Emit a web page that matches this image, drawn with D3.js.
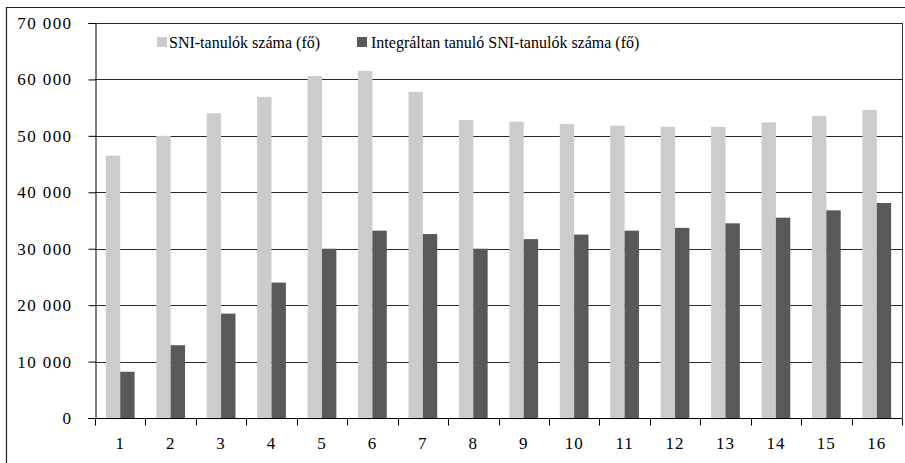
<!DOCTYPE html>
<html><head><meta charset="utf-8">
<script src="https://cdn.jsdelivr.net/npm/d3@7/dist/d3.min.js"></script>
<style>body{margin:0;background:#fff}svg{display:block}
svg text{font-family:"Liberation Serif","DejaVu Serif",serif;}</style>
</head><body>
<svg id="c" width="905" height="463"></svg>
<script>
const categories = ["1","2","3","4","5","6","7","8","9","10","11","12","13","14","15","16"];
const sniTotal = [46500,50000,54000,56900,60600,61500,57800,52800,52500,52100,51800,51600,51600,52400,53500,54600];
const sniIntegrated = [8200,12900,18500,24000,30000,33200,32600,30000,31700,32500,33200,33700,34500,35500,36800,38100];
const seriesNames = ["SNI-tanulók száma (fő)","Integráltan tanuló SNI-tanulók száma (fő)"];
const yTicks = [0,10000,20000,30000,40000,50000,60000,70000];
const colors = ["#cccccc","#595959"];

const svg = d3.select("#c");
const L = 95, R = 902, T = 23, B = 418;

// outer border
svg.append("path").attr("d","M6.5,463 L6.5,7.5 L905,7.5").attr("fill","none").attr("stroke","#222").attr("stroke-width",1.2);

const x = d3.scaleBand().domain(categories).range([L,R]).paddingInner(0).paddingOuter(0);
const y = d3.scaleLinear().domain([0,70000]).range([B,T]);
const groupW = x.bandwidth()*0.57;
const xs = d3.scaleBand().domain([0,1]).range([0,groupW]);

// gridlines
svg.append("g").selectAll("line").data(yTicks).join("line")
  .attr("x1",L).attr("x2",R).attr("y1",d=>Math.round(y(d))+0.5).attr("y2",d=>Math.round(y(d))+0.5)
  .attr("stroke","#2a2a2a").attr("stroke-width",1.1);

// bars
const series = [sniTotal, sniIntegrated];
series.forEach((vals,si)=>{
  svg.append("g").selectAll("rect").data(vals).join("rect")
    .attr("x",(d,i)=>x(categories[i]) + (x.bandwidth()-groupW)/2 + xs(si))
    .attr("width",xs.bandwidth())
    .attr("y",d=>y(d)).attr("height",d=>B-y(d))
    .attr("fill",colors[si]);
});

// plot right border
svg.append("line").attr("x1",R+0.5).attr("x2",R+0.5).attr("y1",T).attr("y2",B).attr("stroke","#333");

// y axis
const yAxis = d3.axisLeft(y).tickValues(yTicks).tickSize(7).tickPadding(16)
  .tickFormat(d=>d3.format(",")(d).replace(/,/g," "));
const gy = svg.append("g").attr("transform",`translate(${L+0.5},0)`).call(yAxis);
gy.attr("font-family",null).attr("font-size",null);
gy.selectAll("path,line").attr("stroke","#000");
gy.selectAll("text").style("font-size","17px").attr("fill","#000")
  .style("letter-spacing","1.4px").attr("dy","0.32em");

// x axis
const gx = svg.append("g").attr("transform",`translate(0,${B+0.5})`);
gx.append("line").attr("x1",L-7).attr("x2",R).attr("stroke","#000");
const bounds = categories.map(c=>x(c)).concat([R]);
gx.selectAll("line.t").data(bounds).join("line").attr("class","t")
  .attr("x1",d=>Math.round(d)+0.5).attr("x2",d=>Math.round(d)+0.5).attr("y1",0).attr("y2",7).attr("stroke","#000");
gx.selectAll("text").data(categories).join("text")
  .attr("x",d=>x(d)+x.bandwidth()/2).attr("y",25).attr("dy","0.32em")
  .attr("text-anchor","middle").style("font-size","17px")
  .style("letter-spacing","1px").text(d=>d);

// legend
const leg = [{x:157,tx:169},{x:357,tx:371}];
leg.forEach((l,i)=>{
  svg.append("rect").attr("x",l.x).attr("y",37).attr("width",10).attr("height",10).attr("fill",colors[i]);
  svg.append("text").attr("x",l.tx).attr("y",42).attr("dy","0.35em")
    .style("font-size","16px").attr("fill","#000").text(seriesNames[i]);
});
</script>
</body></html>
